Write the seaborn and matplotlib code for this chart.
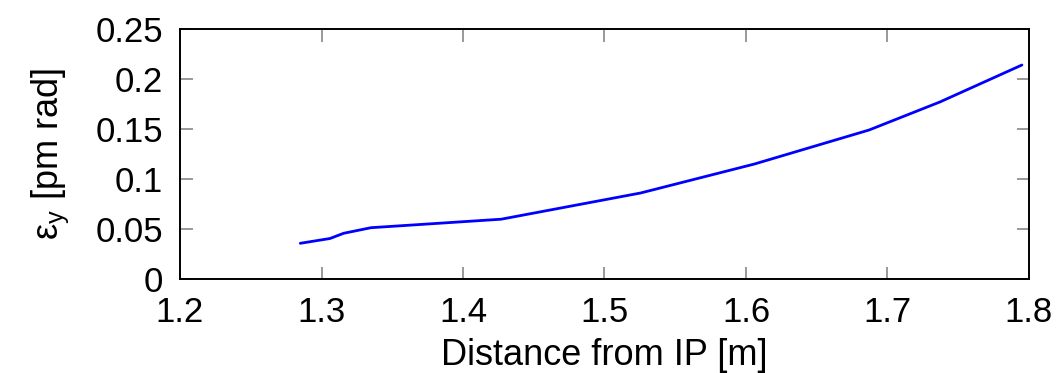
import matplotlib
matplotlib.use("Agg")
import matplotlib.pyplot as plt
import seaborn as sns
import pandas as pd

# Vertical emittance along the beamline
distance_m = [1.285, 1.306, 1.3156, 1.335, 1.427, 1.5255, 1.606, 1.687, 1.737, 1.795]
emittance_y = [0.0357, 0.0405, 0.0457, 0.0513, 0.0598, 0.0860, 0.1150, 0.1490, 0.1770, 0.2140]

x_ticks = [1.2, 1.3, 1.4, 1.5, 1.6, 1.7, 1.8]
x_tick_labels = ["1.2", "1.3", "1.4", "1.5", "1.6", "1.7", "1.8"]
y_ticks = [0, 0.05, 0.1, 0.15, 0.2, 0.25]
y_tick_labels = ["0", "0.05", "0.1", "0.15", "0.2", "0.25"]

sns.set_theme(style="ticks")
plt.rcParams["font.family"] = ["Liberation Sans", "DejaVu Sans"]
plt.rcParams["mathtext.fontset"] = "custom"
plt.rcParams["mathtext.rm"] = "Liberation Sans"

df = pd.DataFrame({"distance": distance_m, "eps": emittance_y})

fig = plt.figure(figsize=(10.62, 3.73), dpi=100)
ax = fig.add_axes([180 / 1062, 1 - 279 / 373, (1029 - 180) / 1062, (279 - 29) / 373])

sns.lineplot(data=df, x="distance", y="eps", ax=ax, color="#0000ff", linewidth=2.0, sort=False)

ax.set_xlim(1.2, 1.8)
ax.set_ylim(0, 0.25)
ax.set_xticks(x_ticks)
ax.set_xticklabels(x_tick_labels)
ax.set_yticks(y_ticks)
ax.set_yticklabels(y_tick_labels)

for side in ["top", "bottom", "left", "right"]:
    ax.spines[side].set_visible(True)
    ax.spines[side].set_color("black")
    ax.spines[side].set_linewidth(1.4)

ax.tick_params(axis="both", which="major", direction="in", length=9, width=1.2,
               color="#888888", labelsize=25, labelcolor="black",
               top=True, right=True)
ax.tick_params(axis="y", pad=12)
ax.tick_params(axis="x", pad=12)

ax.set_xlabel("Distance from IP [m]", fontsize=26, color="black", labelpad=7)
ax.set_ylabel("ε$_\\mathregular{y}$ [pm rad]", fontsize=26, color="black", labelpad=18)

fig.savefig("out.png", dpi=100)
